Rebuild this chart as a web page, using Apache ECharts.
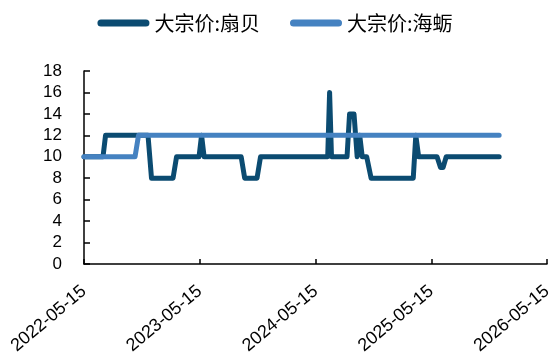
<!DOCTYPE html>
<html>
<head>
<meta charset="utf-8">
<script src="https://cdn.jsdelivr.net/npm/echarts@6/dist/echarts.min.js"></script>
<style>
  html, body { margin: 0; padding: 0; background: #fff; }
  #chart { width: 550px; height: 363px; }
</style>
</head>
<body>
<div id="chart"></div>
<script>
// 大宗价：扇贝 (元/斤)
const scallopDates = [
  '2022-05-15', '2022-07-14', '2022-07-22', '2022-12-03', '2022-12-14',
  '2023-02-20', '2023-03-03', '2023-05-13', '2023-05-21', '2023-05-29',
  '2023-09-23', '2023-10-04', '2023-11-12', '2023-11-23', '2024-06-22',
  '2024-06-28', '2024-07-04', '2024-08-22', '2024-08-30', '2024-09-13',
  '2024-09-23', '2024-10-01', '2024-10-09', '2024-10-23', '2024-11-06',
  '2025-03-19', '2025-03-27', '2025-04-05', '2025-06-02', '2025-06-13',
  '2025-06-21', '2025-07-01', '2025-12-15'
];
const scallopPrices = [
  10, 10, 12, 12, 8,
  8, 10, 10, 12, 10,
  10, 8, 8, 10, 10,
  16, 10, 10, 14, 14,
  10, 12, 10, 10, 8,
  8, 12, 10, 10, 9,
  9, 10, 10
];

// 大宗价：海蛎
const oysterDates = ['2022-05-15', '2022-10-23', '2022-11-03', '2025-12-15'];
const oysterPrices = [10, 10, 12, 12];

// x-axis ticks and labels
const xTickLabels = ['2022-05-15', '2023-05-15', '2024-05-15', '2025-05-15', '2026-05-15'];

const ts = s => Date.UTC(+s.slice(0, 4), +s.slice(5, 7) - 1, +s.slice(8, 10));
const pair = (dates, vals) => dates.map((d, i) => [ts(d), vals[i]]);
const pad = n => (n < 10 ? '0' : '') + n;
const fmtDate = v => {
  const d = new Date(v);
  return d.getUTCFullYear() + '-' + pad(d.getUTCMonth() + 1) + '-' + pad(d.getUTCDate());
};

const chart = echarts.init(document.getElementById('chart'));
const axisFont = { fontFamily: 'Liberation Sans, Arial, sans-serif', color: '#000' };
const legendIcon = 'path://M3.5,0H48.5A3.5,3.5,0,0,1,48.5,7H3.5A3.5,3.5,0,0,1,3.5,0Z';
const xTicks = xTickLabels.map(ts);

chart.setOption({
  animation: false,
  backgroundColor: '#fff',
  legend: {
    left: 'center',
    top: 8,
    itemWidth: 52,
    itemHeight: 7,
    itemGap: 30,
    textStyle: { fontFamily: 'Noto Sans CJK SC', fontSize: 20, color: '#000' },
    data: [
      { name: '大宗价:扇贝', icon: legendIcon },
      { name: '大宗价:海蛎', icon: legendIcon }
    ]
  },
  grid: { left: 84, right: 3, top: 71, bottom: 99, outerBoundsMode: 'none', containLabel: false },
  xAxis: {
    type: 'value',
    min: xTicks[0],
    max: xTicks[xTicks.length - 1],
    splitLine: { show: false },
    axisLine: { lineStyle: { color: '#000', width: 1.5 } },
    axisTick: {
      inside: true, length: 5,
      lineStyle: { color: '#000', width: 1.5 },
      customValues: xTicks
    },
    axisLabel: {
      ...axisFont,
      fontSize: 18,
      rotate: 40,
      margin: 25,
      customValues: xTicks,
      formatter: v => fmtDate(v)
    }
  },
  yAxis: {
    type: 'value',
    min: 0,
    max: 18,
    interval: 2,
    splitLine: { show: false },
    axisLine: { show: true, lineStyle: { color: '#000', width: 1.5 } },
    axisTick: { show: true, inside: true, length: 6, lineStyle: { color: '#000', width: 1.5 } },
    axisLabel: { ...axisFont, fontSize: 17, margin: 22 }
  },
  series: [
    {
      name: '大宗价:扇贝',
      type: 'line',
      showSymbol: false,
      symbol: 'none',
      color: '#0B4B71',
      lineStyle: { width: 5, color: '#0B4B71', cap: 'round', join: 'round' },
      data: pair(scallopDates, scallopPrices)
    },
    {
      name: '大宗价:海蛎',
      type: 'line',
      showSymbol: false,
      symbol: 'none',
      color: '#4582C1',
      lineStyle: { width: 5, color: '#4582C1', cap: 'round', join: 'round' },
      data: pair(oysterDates, oysterPrices)
    }
  ]
});
</script>
</body>
</html>
